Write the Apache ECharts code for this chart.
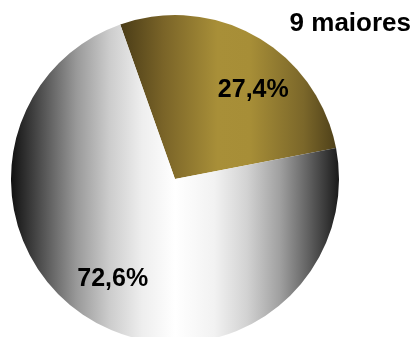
<!DOCTYPE html>
<html>
<head>
<meta charset="utf-8">
<style>
  html, body { margin: 0; padding: 0; background: #fff; }
  #chart { width: 419px; height: 337px; }
</style>
<script src="https://cdn.jsdelivr.net/npm/echarts@6/dist/echarts.min.js"></script>
</head>
<body>
<div id="chart"></div>
<script>
// Share of the nine largest versus the rest
const titleText = '9 maiores';
const categories = ['9 maiores', 'Demais'];
const values = [27.4, 72.6];
const valueLabels = ['27,4%', '72,6%'];

const goldFill = new echarts.graphic.LinearGradient(0, 0, 1, 0, [
  { offset: 0, color: '#4a3c17' },
  { offset: 0.2, color: '#7a6428' },
  { offset: 0.45, color: '#a88f38' },
  { offset: 0.6, color: '#a78e37' },
  { offset: 0.85, color: '#7b672a' },
  { offset: 1, color: '#4e4019' }
]);
const silverFill = new echarts.graphic.LinearGradient(0, 0, 1, 0, [
  { offset: 0, color: '#111111' },
  { offset: 0.1, color: '#555555' },
  { offset: 0.2, color: '#999999' },
  { offset: 0.3, color: '#cccccc' },
  { offset: 0.4, color: '#eeeeee' },
  { offset: 0.5, color: '#ffffff' },
  { offset: 0.62, color: '#f2f2f2' },
  { offset: 0.72, color: '#d2d2d2' },
  { offset: 0.82, color: '#a0a0a0' },
  { offset: 0.9, color: '#666666' },
  { offset: 1, color: '#1a1a1a' }
]);
const fills = [goldFill, silverFill];
const labelShift = [[36, -15], [-20, 26]];

const chart = echarts.init(document.getElementById('chart'), null, { renderer: 'canvas' });
chart.setOption({
  animation: false,
  title: {
    text: titleText,
    right: 3,
    top: 6,
    textStyle: {
      fontFamily: 'Liberation Sans, Arial, sans-serif',
      fontSize: 26,
      fontWeight: 'bold',
      color: '#000'
    }
  },
  series: [{
    type: 'pie',
    center: [175, 179],
    radius: 164,
    startAngle: 109.5,
    clockwise: true,
    silent: true,
    label: {
      show: true,
      position: 'inside',
      fontFamily: 'Liberation Sans, Arial, sans-serif',
      fontSize: 25,
      fontWeight: 'bold',
      color: '#000',
      formatter: p => valueLabels[p.dataIndex]
    },
    labelLine: { show: false },
    itemStyle: { borderWidth: 0 },
    data: categories.map((name, i) => ({
      name,
      value: values[i],
      itemStyle: { color: fills[i] },
      label: { offset: labelShift[i] }
    }))
  }]
});
</script>
</body>
</html>
